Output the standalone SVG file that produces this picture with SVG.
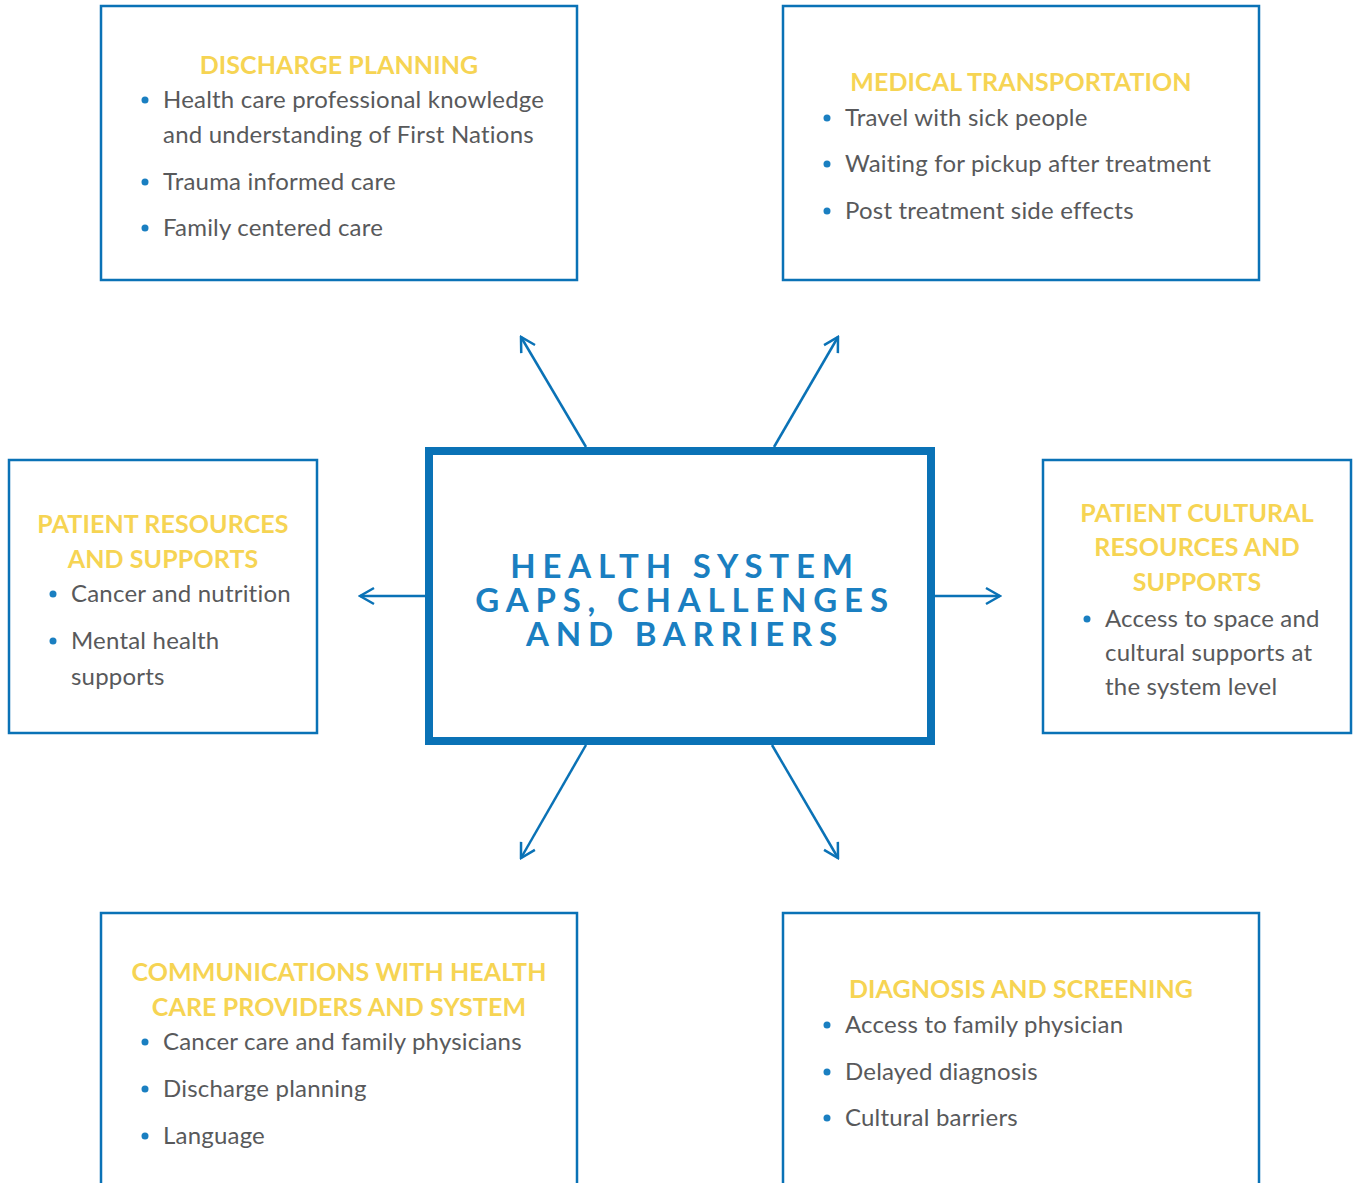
<svg xmlns="http://www.w3.org/2000/svg" width="1354" height="1183" viewBox="0 0 1354 1183">
<defs>
<style>
.box{fill:#fff;stroke:#0a72b6;stroke-width:2.5}
.center{fill:#fff;stroke:#0a72b6;stroke-width:8}
.title{font-family:Lato,"Open Sans",sans-serif;font-weight:bold;font-size:25px;fill:#f6d453;text-anchor:middle;letter-spacing:0.1px}
.item{font-family:Lato,"Open Sans",sans-serif;font-size:24px;fill:#58595b;letter-spacing:0.2px}
.bul{fill:#1a7fc1}
.ctitle{font-family:Lato,"Open Sans",sans-serif;font-weight:bold;font-size:33px;fill:#1a7fc1;text-anchor:middle;letter-spacing:6.8px}
.conn{stroke:#0a72b6;stroke-width:2.5;fill:none}
</style>
<marker id="arr" viewBox="0 0 20 20" refX="18" refY="10" markerWidth="20" markerHeight="20" markerUnits="userSpaceOnUse" orient="auto">
<path d="M4,2 L18,10 L4,18" fill="none" stroke="#0a72b6" stroke-width="2.5"/>
</marker>
</defs>
<g id="connectors">
<line class="conn" x1="586" y1="447" x2="521" y2="337" marker-end="url(#arr)"/>
<line class="conn" x1="774" y1="447" x2="838" y2="337" marker-end="url(#arr)"/>
<line class="conn" x1="425" y1="596" x2="360" y2="596" marker-end="url(#arr)"/>
<line class="conn" x1="935" y1="596" x2="1000" y2="596" marker-end="url(#arr)"/>
<line class="conn" x1="586" y1="745" x2="521" y2="858" marker-end="url(#arr)"/>
<line class="conn" x1="772" y1="745" x2="838" y2="858" marker-end="url(#arr)"/>
</g>
<g id="center">
<rect class="center" x="429" y="451" width="502" height="290"/>
<text class="ctitle" x="685" y="578">HEALTH SYSTEM</text>
<text class="ctitle" x="685" y="612">GAPS, CHALLENGES</text>
<text class="ctitle" x="685" y="646">AND BARRIERS</text>
</g>
<g id="discharge">
<rect class="box" x="101" y="6" width="476" height="274"/>
<text class="title" x="339" y="74">DISCHARGE PLANNING</text>
<circle class="bul" cx="145" cy="100" r="3.5"/>
<text class="item" x="163" y="108">Health care professional knowledge</text>
<text class="item" x="163" y="143">and understanding of First Nations</text>
<circle class="bul" cx="145" cy="182" r="3.5"/>
<text class="item" x="163" y="190">Trauma informed care</text>
<circle class="bul" cx="145" cy="228" r="3.5"/>
<text class="item" x="163" y="236">Family centered care</text>
</g>
<g id="transport">
<rect class="box" x="783" y="6" width="476" height="274"/>
<text class="title" x="1021" y="91">MEDICAL TRANSPORTATION</text>
<circle class="bul" cx="827" cy="118" r="3.5"/>
<text class="item" x="845" y="126">Travel with sick people</text>
<circle class="bul" cx="827" cy="164" r="3.5"/>
<text class="item" x="845" y="172">Waiting for pickup after treatment</text>
<circle class="bul" cx="827" cy="211" r="3.5"/>
<text class="item" x="845" y="219">Post treatment side effects</text>
</g>
<g id="resources">
<rect class="box" x="9" y="460" width="308" height="273"/>
<text class="title" x="163" y="533">PATIENT RESOURCES</text>
<text class="title" x="163" y="568">AND SUPPORTS</text>
<circle class="bul" cx="53" cy="594" r="3.5"/>
<text class="item" x="71" y="602">Cancer and nutrition</text>
<circle class="bul" cx="53" cy="641" r="3.5"/>
<text class="item" x="71" y="649">Mental health</text>
<text class="item" x="71" y="685">supports</text>
</g>
<g id="cultural">
<rect class="box" x="1043" y="460" width="308" height="273"/>
<text class="title" x="1197" y="522">PATIENT CULTURAL</text>
<text class="title" x="1197" y="556">RESOURCES AND</text>
<text class="title" x="1197" y="591">SUPPORTS</text>
<circle class="bul" cx="1087" cy="619" r="3.5"/>
<text class="item" x="1105" y="627">Access to space and</text>
<text class="item" x="1105" y="661">cultural supports at</text>
<text class="item" x="1105" y="695">the system level</text>
</g>
<g id="communications">
<rect class="box" x="101" y="913" width="476" height="290"/>
<text class="title" x="339" y="981">COMMUNICATIONS WITH HEALTH</text>
<text class="title" x="339" y="1016">CARE PROVIDERS AND SYSTEM</text>
<circle class="bul" cx="145" cy="1042" r="3.5"/>
<text class="item" x="163" y="1050">Cancer care and family physicians</text>
<circle class="bul" cx="145" cy="1089" r="3.5"/>
<text class="item" x="163" y="1097">Discharge planning</text>
<circle class="bul" cx="145" cy="1136" r="3.5"/>
<text class="item" x="163" y="1144">Language</text>
</g>
<g id="diagnosis">
<rect class="box" x="783" y="913" width="476" height="290"/>
<text class="title" x="1021" y="998">DIAGNOSIS AND SCREENING</text>
<circle class="bul" cx="827" cy="1025" r="3.5"/>
<text class="item" x="845" y="1033">Access to family physician</text>
<circle class="bul" cx="827" cy="1072" r="3.5"/>
<text class="item" x="845" y="1080">Delayed diagnosis</text>
<circle class="bul" cx="827" cy="1118" r="3.5"/>
<text class="item" x="845" y="1126">Cultural barriers</text>
</g>
</svg>
